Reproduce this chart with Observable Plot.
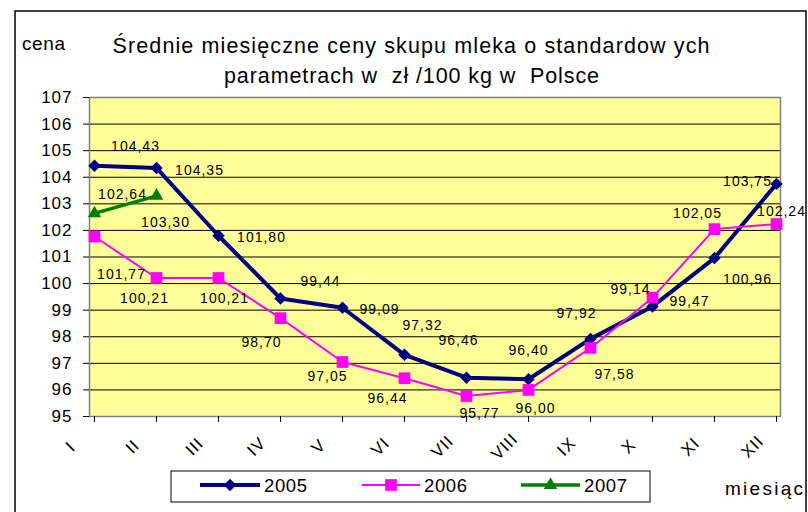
<!DOCTYPE html>
<html>
<head>
<meta charset="utf-8">
<script src="https://cdn.jsdelivr.net/npm/d3@7"></script>
<script src="https://cdn.jsdelivr.net/npm/@observablehq/plot@0.6"></script>
<style>
  html, body { margin: 0; padding: 0; background: #fff; }
  #wrap { position: relative; width: 808px; height: 512px; overflow: hidden; }
  #wrap svg { position: absolute; left: 0; top: 0; }
</style>
</head>
<body>
<div id="wrap"></div>
<script>
// ---- data ----
const months = ["I", "II", "III", "IV", "V", "VI", "VII", "VIII", "IX", "X", "XI", "XII"];
const values2005 = [104.43, 104.35, 101.80, 99.44, 99.09, 97.32, 96.46, 96.40, 97.92, 99.14, 100.96, 103.75];
const values2006 = [101.77, 100.21, 100.21, 98.70, 97.05, 96.44, 95.77, 96.00, 97.58, 99.47, 102.05, 102.24];
const values2007 = [102.64, 103.30];
const yTicks = [95, 96, 97, 98, 99, 100, 101, 102, 103, 104, 105, 106, 107];
const seriesNames = ["2005", "2006", "2007"];

// ---- label placement (pixel offsets of each value label from its point) ----
const offsets2005 = [[41,-19],[43,3],[43,2],[40,-17],[37,2],[18,-29],[-8,-37],[0,-29],[-14,-25],[-22,-17],[33,21],[-29,-2]];
const offsets2006 = [[27,38],[-12,21],[6,21],[-19,24],[-15,15],[-17,20],[13,17],[7,19],[24,27],[37,4],[-17,-16],[5,-13]];
const offsets2007 = [[28,-19],[9,27]];

const colors = {"2005": "#000080", "2006": "#FF00FF", "2007": "#008000"};
const fmt = v => v.toFixed(2).replace(".", ",");

const rows = (vals) => vals.map((v, i) => ({month: months[i], value: v}));
const d2005 = rows(values2005), d2006 = rows(values2006), d2007 = rows(values2007);

const labelMarks = (data, offs) => data.map((d, i) =>
  Plot.text([d], {x: "month", y: "value", text: d => fmt(d.value), dx: offs[i][0], dy: offs[i][1], fontSize: 14, fill: "#000"}));

const chart = Plot.plot({
  width: 808,
  height: 512,
  marginLeft: 89,
  marginRight: 28,
  marginTop: 97,
  marginBottom: 96,
  style: "font-family: 'Liberation Sans', Arial, sans-serif; letter-spacing: 1px; background: transparent; overflow: visible;",
  x: {type: "point", domain: months, padding: 0},
  y: {domain: [95, 107]},
  marks: [
    Plot.frame({fill: "#FFFF99"}),
    Plot.gridY(yTicks, {stroke: "#000", strokeOpacity: 1, strokeWidth: 1}),
    Plot.frame({stroke: "#808080", strokeWidth: 1.5}),
    Plot.axisY(yTicks, {tickSize: 6, tickPadding: 11, fontSize: 17, label: null, stroke: "#000"}),
    Plot.axisX({tickSize: 6, tickFormat: () => "", label: null, stroke: "#000"}),
    Plot.text(months, {x: d => d, frameAnchor: "bottom", dx: -20, dy: 34, rotate: -45, fontSize: 17, fill: "#000"}),
    Plot.line(d2005, {x: "month", y: "value", stroke: colors["2005"], strokeWidth: 4}),
    Plot.line(d2006, {x: "month", y: "value", stroke: colors["2006"], strokeWidth: 2}),
    Plot.line(d2007, {x: "month", y: "value", stroke: colors["2007"], strokeWidth: 3.5}),
    Plot.dot(d2005, {x: "month", y: "value", symbol: "diamond2", r: 5.6, fill: colors["2005"], stroke: "none"}),
    Plot.dot(d2006, {x: "month", y: "value", symbol: "square", r: 6.6, fill: colors["2006"], stroke: "none"}),
    Plot.dot(d2007, {x: "month", y: "value", symbol: "triangle", r: 5, fill: colors["2007"], stroke: "none"}),
    ...labelMarks(d2005, offsets2005),
    ...labelMarks(d2006, offsets2006),
    ...labelMarks(d2007, offsets2007)
  ]
});

const wrap = document.getElementById("wrap");
wrap.appendChild(chart);

// ---- overlay: frame, title, axis names, legend ----
const ov = d3.select(wrap).append("svg")
  .attr("width", 808).attr("height", 512)
  .style("font-family", "'Liberation Sans', Arial, sans-serif")
  .style("pointer-events", "none");

ov.append("rect").attr("x", 15).attr("y", 11).attr("width", 791).attr("height", 540)
  .attr("fill", "none").attr("stroke", "#000").attr("stroke-width", 1.5);

const addText = (txt, x, y, size, anchor, len) => {
  const t = ov.append("text").attr("x", x).attr("y", y).attr("font-size", size)
    .attr("text-anchor", anchor).attr("fill", "#000").style("white-space", "pre").text(txt);
  if (len) t.attr("textLength", len).attr("lengthAdjust", "spacing");
  return t;
};

addText("Średnie miesięczne ceny skupu mleka o standardow ych", 411, 53, 21.5, "middle", 597);
addText("parametrach w  zł /100 kg w  Polsce", 411.5, 83, 21.5, "middle", 375);
addText("cena", 22, 50, 19, "start", 43);
addText("miesiąc", 725, 495, 19, "start", 78);

// legend
ov.append("rect").attr("x", 171).attr("y", 471).attr("width", 479).attr("height", 31)
  .attr("fill", "#fff").attr("stroke", "#000").attr("stroke-width", 1);

const legendItems = [
  {name: seriesNames[0], x0: 200, x1: 260, tx: 264, sym: d3.symbolDiamond2, size: Math.PI * 5.6 * 5.6, sw: 4},
  {name: seriesNames[1], x0: 362, x1: 420, tx: 424, sym: d3.symbolSquare, size: Math.PI * 6.6 * 6.6, sw: 2},
  {name: seriesNames[2], x0: 521, x1: 580, tx: 584, sym: d3.symbolTriangle, size: Math.PI * 5 * 5, sw: 3.5}
];
legendItems.forEach(it => {
  const c = colors[it.name];
  ov.append("line").attr("x1", it.x0).attr("x2", it.x1).attr("y1", 485).attr("y2", 485)
    .attr("stroke", c).attr("stroke-width", it.sw);
  ov.append("path").attr("d", d3.symbol(it.sym, it.size)())
    .attr("transform", `translate(${(it.x0 + it.x1) / 2},485)`).attr("fill", c);
  addText(it.name, it.tx, 492, 18.5, "start", 43);
});
</script>
</body>
</html>
